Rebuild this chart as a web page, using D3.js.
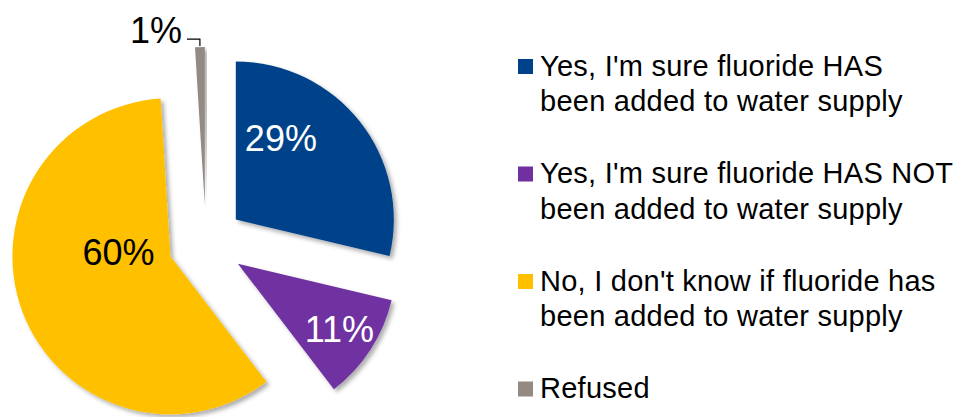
<!DOCTYPE html>
<html>
<head>
<meta charset="utf-8">
<script src="https://cdn.jsdelivr.net/npm/d3@7"></script>
<style>
  html, body { margin: 0; padding: 0; background: #fff; }
  svg { display: block; font-family: "Liberation Sans", Arial, sans-serif; }
</style>
</head>
<body>
<svg id="chart" width="957" height="417"></svg>
<script>
// Survey answers: has fluoride been added to the water supply?
const categories = [
  "Yes, I'm sure fluoride HAS been added to water supply",
  "Yes, I'm sure fluoride HAS NOT been added to water supply",
  "No, I don't know if fluoride has been added to water supply",
  "Refused"
];
const legendLines = [
  ["Yes, I'm sure fluoride HAS", "been added to water supply"],
  ["Yes, I'm sure fluoride HAS NOT", "been added to water supply"],
  ["No, I don't know if fluoride has", "been added to water supply"],
  ["Refused"]
];
const values = [29, 11, 60, 1];
const colors = ["#00428A", "#7030A0", "#FFC000", "#948A84"];

// Label placement inside each slice: [angle (deg, clockwise from top), distance from slice apex]
const labelPolar = [[29, 93], [123, 121], [274, 52], null];

const svg = d3.select("#chart");
const cx = 206, cy = 243, radius = 158, explode = 38;

const defs = svg.append("defs");
const shadow = defs.append("filter").attr("id", "shadow")
  .attr("x", "-20%").attr("y", "-20%").attr("width", "140%").attr("height", "140%");
shadow.append("feDropShadow")
  .attr("dx", 3).attr("dy", 3).attr("stdDeviation", 2.2)
  .attr("flood-color", "#000").attr("flood-opacity", 0.32);

const total = d3.sum(values);
const pie = d3.pie().sort(null).value(d => d)
  .startAngle(0).endAngle(2 * Math.PI);
const arcs = pie(values.map(v => v / total));
const arc = d3.arc().innerRadius(0).outerRadius(radius);

const pieG = svg.append("g").attr("transform", `translate(${cx},${cy})`);

const slices = pieG.selectAll("g.slice").data(arcs).join("g")
  .attr("class", "slice")
  .attr("transform", d => {
    const a = (d.startAngle + d.endAngle) / 2;
    return `translate(${explode * Math.sin(a)},${-explode * Math.cos(a)})`;
  });

slices.append("path")
  .attr("d", arc)
  .attr("fill", (d, i) => colors[i])
  .attr("filter", "url(#shadow)");

// In-slice percentage labels
slices.each(function (d, i) {
  const lp = labelPolar[i];
  if (!lp) return;
  const a = lp[0] * Math.PI / 180;
  d3.select(this).append("text")
    .attr("x", lp[1] * Math.sin(a))
    .attr("y", -lp[1] * Math.cos(a))
    .attr("dy", "0.35em")
    .attr("text-anchor", "middle")
    .attr("font-size", 36)
    .attr("fill", i === 2 ? "#000" : "#fff")
    .text(values[i] + "%");
});

// Outside label with leader line for the thin slice
{
  const d = arcs[3];
  const a = (d.startAngle + d.endAngle) / 2;
  const ox = explode * Math.sin(a), oy = -explode * Math.cos(a);
  const tipX = ox + radius * Math.sin(a), tipY = oy - radius * Math.cos(a);
  pieG.append("path")
    .attr("d", `M${tipX - 13},${tipY - 8}H${tipX}V${tipY - 1}`)
    .attr("fill", "none").attr("stroke", "#000").attr("stroke-width", 1.2);
  pieG.append("text")
    .attr("x", tipX - 18).attr("y", tipY - 4)
    .attr("text-anchor", "end")
    .attr("font-size", 36)
    .attr("fill", "#000")
    .text(values[3] + "%");
}

// Legend
const legend = svg.append("g").attr("transform", "translate(518,59)");
const itemGap = 107.5, lineH = 35.5;
const items = legend.selectAll("g.item").data(categories).join("g")
  .attr("class", "item")
  .attr("transform", (d, i) => `translate(0,${i * itemGap})`);
items.append("rect")
  .attr("width", 15).attr("height", 15)
  .attr("fill", (d, i) => colors[i]);
items.each(function (d, i) {
  const t = d3.select(this).append("text")
    .attr("x", 22).attr("y", 16.5)
    .attr("font-size", 29).attr("letter-spacing", 0.25).attr("fill", "#000");
  legendLines[i].forEach((ln, j) => {
    t.append("tspan").attr("x", 22).attr("dy", j === 0 ? 0 : lineH).text(ln);
  });
});
</script>
</body>
</html>
